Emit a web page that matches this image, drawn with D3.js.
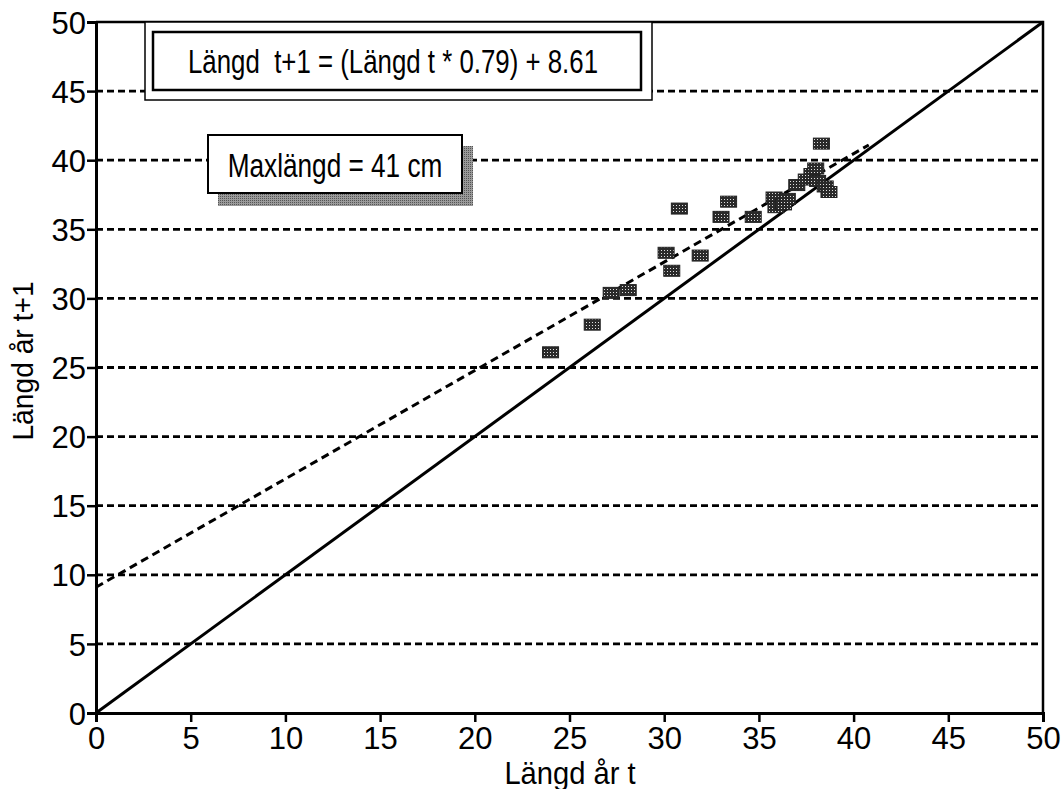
<!DOCTYPE html>
<html>
<head>
<meta charset="utf-8">
<script src="https://cdn.jsdelivr.net/npm/d3@7"></script>
<style>
  body { margin: 0; background: #fff; }
  svg { display: block; font-family: "Liberation Sans", Arial, sans-serif; }
</style>
</head>
<body>
<div id="chart"></div>
<script>
// length year t (x) and length year t+1 (y)
const lenT  = [24.0, 26.2, 27.2, 28.1, 30.1, 30.4, 31.9, 30.8, 33.0, 33.4, 34.7, 35.8, 35.9, 36.3, 36.5, 37.0, 37.5, 37.8, 38.1, 38.5, 38.7, 38.0, 38.3];
const lenT1 = [26.1, 28.1, 30.4, 30.6, 33.3, 32.0, 33.1, 36.5, 35.9, 37.0, 35.9, 37.3, 36.6, 36.8, 37.2, 38.2, 38.6, 39.0, 38.5, 38.1, 37.7, 39.4, 41.2];

const xTicks = [0, 5, 10, 15, 20, 25, 30, 35, 40, 45, 50];
const yTicks = [0, 5, 10, 15, 20, 25, 30, 35, 40, 45, 50];
const gridVals = [5, 10, 15, 20, 25, 30, 35, 40, 45];

// regression line as drawn (start / end) and the 1:1 line
const regLine = [[0, 9.1], [40.8, 41.1]];
const oneToOne = [[0, 0], [50, 50]];

const eqText = "Längd  t+1 = (Längd t * 0.79) + 8.61";
const maxText = "Maxlängd = 41 cm";

const W = 1064, H = 789;
const x = d3.scaleLinear().domain([0, 50]).range([96, 1043]);
const y = d3.scaleLinear().domain([0, 50]).range([713, 22]);

const svg = d3.select("#chart").append("svg")
    .attr("width", W)
    .attr("height", H);

const defs = svg.append("defs");

// stippled fill for the markers
const pat = defs.append("pattern")
    .attr("id", "stipple")
    .attr("width", 3).attr("height", 3)
    .attr("patternUnits", "userSpaceOnUse");
pat.append("rect").attr("width", 3).attr("height", 3).attr("fill", "#2a2a2a");
pat.append("rect").attr("x", 1).attr("y", 1).attr("width", 1).attr("height", 1).attr("fill", "#e0e0e0");

// lighter stipple for the box shadow
const pat2 = defs.append("pattern")
    .attr("id", "shade")
    .attr("width", 2).attr("height", 2)
    .attr("patternUnits", "userSpaceOnUse");
pat2.append("rect").attr("width", 2).attr("height", 2).attr("fill", "#9a9a9a");
pat2.append("rect").attr("width", 1).attr("height", 1).attr("fill", "#555");

// dashed gridlines
svg.append("g")
    .selectAll("line")
    .data(gridVals)
    .enter()
    .append("line")
    .attr("x1", x(0))
    .attr("x2", x(50))
    .attr("y1", d => y(d))
    .attr("y2", d => y(d))
    .attr("stroke", "#000")
    .attr("stroke-width", 2.8)
    .attr("stroke-dasharray", "7,4");

// 1:1 line
const line = d3.line().x(d => x(d[0])).y(d => y(d[1]));
svg.append("path")
    .attr("d", line(oneToOne))
    .attr("fill", "none")
    .attr("stroke", "#000")
    .attr("stroke-width", 3);

// regression line
svg.append("path")
    .attr("d", line(regLine))
    .attr("fill", "none")
    .attr("stroke", "#000")
    .attr("stroke-width", 3)
    .attr("stroke-dasharray", "8,5");

// data squares
const mw = 16, mh = 11;
svg.append("g")
    .selectAll("rect")
    .data(lenT.map((d, i) => [d, lenT1[i]]))
    .enter()
    .append("rect")
    .attr("x", d => x(d[0]) - mw / 2)
    .attr("y", d => y(d[1]) - mh / 2)
    .attr("width", mw)
    .attr("height", mh)
    .attr("fill", "url(#stipple)")
    .attr("stroke", "#222")
    .attr("stroke-width", 1);

// axes
const xAxis = svg.append("g")
    .attr("transform", `translate(0,${y(0)})`)
    .call(d3.axisBottom(x).tickValues(xTicks).tickSize(9).tickPadding(4).tickFormat(d3.format("d")));
const yAxis = svg.append("g")
    .attr("transform", `translate(${x(0)},0)`)
    .call(d3.axisLeft(y).tickValues(yTicks).tickSize(9).tickPadding(1).tickFormat(d3.format("d")));

[xAxis, yAxis].forEach(a => {
    a.select(".domain").attr("stroke", "#000").attr("stroke-width", 3);
    a.selectAll(".tick line").attr("stroke", "#000").attr("stroke-width", 2.5);
    a.selectAll("text")
        .attr("fill", "#000")
        .attr("font-family", "Liberation Sans, Arial, sans-serif")
        .attr("font-size", "31px");
});
xAxis.selectAll("text").attr("dy", "0.74em");
yAxis.selectAll("text").attr("dy", "0.36em");

// top and right frame
svg.append("path")
    .attr("d", `M${x(0)},${y(50)}H${x(50)}V${y(0)}`)
    .attr("fill", "none")
    .attr("stroke", "#000")
    .attr("stroke-width", 2.5);

// axis titles
svg.append("text")
    .attr("transform", `translate(570,784) scale(0.94,1)`)
    .attr("text-anchor", "middle")
    .attr("font-size", "31px")
    .text("Längd år t");

svg.append("text")
    .attr("transform", `translate(33,361) rotate(-90) scale(0.94,1)`)
    .attr("text-anchor", "middle")
    .attr("font-size", "30px")
    .text("Längd år t+1");

// equation box (double frame)
svg.append("rect")
    .attr("x", 145).attr("y", 22)
    .attr("width", 507).attr("height", 78)
    .attr("fill", "#fff")
    .attr("stroke", "#000")
    .attr("stroke-width", 1.5);
svg.append("rect")
    .attr("x", 153).attr("y", 32)
    .attr("width", 488).attr("height", 58)
    .attr("fill", "#fff")
    .attr("stroke", "#000")
    .attr("stroke-width", 2.5);
svg.append("text")
    .attr("transform", `translate(393,73) scale(0.76,1)`)
    .attr("text-anchor", "middle")
    .attr("font-size", "34px")
    .style("white-space", "pre")
    .text(eqText);

// max length box with shadow
svg.append("rect")
    .attr("x", 218).attr("y", 146)
    .attr("width", 255).attr("height", 60)
    .attr("fill", "url(#shade)");
svg.append("rect")
    .attr("x", 208).attr("y", 135)
    .attr("width", 254).attr("height", 58)
    .attr("fill", "#fff")
    .attr("stroke", "#000")
    .attr("stroke-width", 2);
svg.append("text")
    .attr("transform", `translate(335,177) scale(0.77,1)`)
    .attr("text-anchor", "middle")
    .attr("font-size", "34px")
    .text(maxText);
</script>
</body>
</html>
